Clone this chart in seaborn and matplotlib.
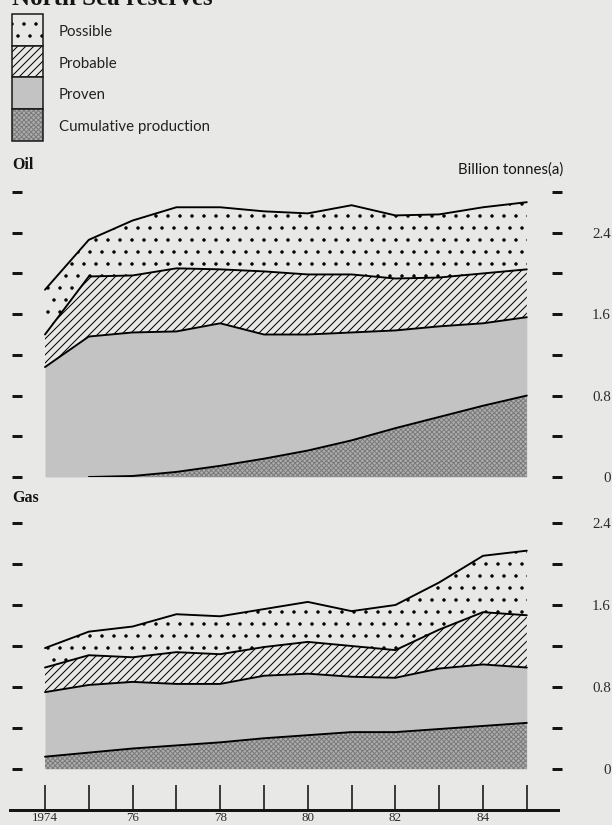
import numpy as np
import pandas as pd
import matplotlib
matplotlib.use('Agg')
import matplotlib.pyplot as plt
from matplotlib.patches import Rectangle
import seaborn as sns

# North Sea reserves, billion tonnes (tops of each stacked layer)
years = np.arange(1974, 1986)

oil_production = [np.nan, 0.0, 0.01, 0.05, 0.11, 0.18, 0.26, 0.36, 0.48, 0.59, 0.70, 0.80]
oil_proven = [1.08, 1.38, 1.42, 1.43, 1.51, 1.40, 1.40, 1.42, 1.44, 1.48, 1.51, 1.57]
oil_probable = [1.40, 1.97, 1.98, 2.05, 2.04, 2.02, 1.99, 1.99, 1.95, 1.96, 2.00, 2.04]
oil_possible = [1.84, 2.33, 2.52, 2.65, 2.65, 2.61, 2.59, 2.67, 2.57, 2.58, 2.65, 2.70]

gas_production = [0.12, 0.16, 0.20, 0.23, 0.26, 0.30, 0.33, 0.36, 0.36, 0.39, 0.42, 0.45]
gas_proven = [0.75, 0.82, 0.85, 0.83, 0.83, 0.91, 0.93, 0.90, 0.89, 0.98, 1.02, 0.99]
gas_probable = [0.99, 1.11, 1.09, 1.14, 1.12, 1.19, 1.24, 1.20, 1.16, 1.36, 1.53, 1.50]
gas_possible = [1.18, 1.34, 1.39, 1.51, 1.49, 1.56, 1.63, 1.54, 1.60, 1.82, 2.08, 2.13]

year_labels = ['1974', '', '76', '', '78', '', '80', '', '82', '', '84', '']
layer_names = ['Possible', 'Probable', 'Proven', 'Cumulative production']

# at 72 dpi one point is one pixel, and the hatch cell is 72 px
DPI = 72
W, H = 612, 825
BG = '#e8e8e6'
PROVEN_C = '#c3c3c3'
PROD_C = '#adadad'
PROD_HATCH_C = '#7a7a7a'
INK = '#151515'


def year_at(px):
    # 1974 sits at x=45 px, one year is 43.8 px
    return 1974 + (px - 45) / 43.8


def fx(px):
    return px / W


def fy(px):
    return 1 - px / H


sns.set_style('white')
plt.rcParams['hatch.linewidth'] = 1.0
plt.rcParams['font.family'] = ['Liberation Serif', 'DejaVu Sans']

fig = plt.figure(figsize=(W / DPI, H / DPI), dpi=DPI, facecolor=BG)


def draw_panel(rect, ymax, prod, proven, probable, possible):
    ax = fig.add_axes(rect)
    ax.set_facecolor('none')
    df = pd.DataFrame({'year': years, 'prod': prod, 'proven': proven,
                       'probable': probable, 'possible': possible})
    ax.fill_between(df['year'], 0, df['proven'], facecolor=PROVEN_C, linewidth=0, zorder=1)
    ax.fill_between(df['year'], 0, df['prod'], facecolor=PROD_C, hatch='xxxxx',
                    edgecolor=PROD_HATCH_C, linewidth=0, zorder=2)
    ax.fill_between(df['year'], df['proven'], df['probable'], facecolor=BG, hatch='///',
                    edgecolor='black', linewidth=0, zorder=2)
    ax.fill_between(df['year'], df['probable'], df['possible'], facecolor='none', hatch='.',
                    edgecolor='black', linewidth=0, zorder=2)
    for col in ['prod', 'proven', 'probable', 'possible']:
        d = df.dropna(subset=[col])
        sns.lineplot(data=d, x='year', y=col, ax=ax, color='black',
                     linewidth=1.9, legend=False, zorder=3)
    ax.set_xlim(year_at(12), year_at(562))
    ax.set_ylim(0, ymax)
    ticks = np.arange(0, ymax + 0.01, 0.4)
    ax.set_yticks(ticks)
    ax.set_yticklabels([f'{t:g}' if round(t / 0.8, 3) % 1 == 0 else '' for t in ticks])
    ax.set_xticks([])
    ax.set_xlabel('')
    ax.set_ylabel('')
    for s in ax.spines.values():
        s.set_visible(False)
    ax.tick_params(axis='y', which='both', direction='in', length=10, width=3,
                   color=INK, left=True, right=True, labelleft=False, labelright=True,
                   pad=49, labelsize=15, labelcolor='#2a2a2a')
    for t in ax.yaxis.get_major_ticks():
        t.label2.set_horizontalalignment('right')
    return ax


# oil: 0 at y=477 px, 2.8 at y=192 px ; gas: 0 at y=769 px, 2.4 at y=523 px
ax_oil = draw_panel([fx(12), fy(477), 550 / W, 285 / H], 2.8,
                    oil_production, oil_proven, oil_probable, oil_possible)
ax_gas = draw_panel([fx(12), fy(769), 550 / W, 246 / H], 2.4,
                    gas_production, gas_proven, gas_probable, gas_possible)

# shared year axis at the bottom
ax_x = fig.add_axes([fx(10), fy(810), 548 / W, 25 / H])
ax_x.set_facecolor('none')
ax_x.set_xlim(year_at(10), year_at(558))
ax_x.set_ylim(0, 1)
ax_x.set_yticks([])
ax_x.set_xticks(years)
ax_x.set_xticklabels(year_labels)
for name, s in ax_x.spines.items():
    s.set_visible(name == 'bottom')
ax_x.spines['bottom'].set_linewidth(3)
ax_x.spines['bottom'].set_color(INK)
ax_x.tick_params(axis='x', direction='in', length=25, width=1.6, color=INK, bottom=True,
                 pad=2, labelsize=13, labelcolor='#2a2a2a')

# titles and labels
fig.text(fx(12), fy(5), 'North Sea reserves', fontsize=25, fontweight='bold',
         va='baseline', ha='left', color=INK)
fig.text(fx(12), fy(165), 'Oil', fontsize=16, fontweight='bold', va='center', color=INK)
fig.text(fx(12), fy(498), 'Gas', fontsize=16, fontweight='bold', va='center', color=INK)
fig.text(fx(458), fy(170), 'Billion tonnes(a)', fontsize=15, va='center',
         family=['Lato', 'DejaVu Sans'], color=INK)

# legend boxes
box_tops = [14, 46, 77, 109, 141]
box_styles = [
    dict(facecolor='none', hatch='.', edgecolor='black'),
    dict(facecolor=BG, hatch='///', edgecolor='black'),
    dict(facecolor=PROVEN_C, edgecolor=PROVEN_C),
    dict(facecolor=PROD_C, hatch='xxxxx', edgecolor=PROD_HATCH_C),
]
for i, (name, style) in enumerate(zip(layer_names, box_styles)):
    top, bot = box_tops[i], box_tops[i + 1]
    fig.patches.append(Rectangle((fx(12), fy(bot)), 31 / W, (bot - top) / H,
                                 transform=fig.transFigure, linewidth=0, **style))
    fig.patches.append(Rectangle((fx(12), fy(bot)), 31 / W, (bot - top) / H,
                                 transform=fig.transFigure, facecolor='none',
                                 edgecolor=INK, linewidth=1.5))
    fig.text(fx(59), fy((top + bot) / 2 + 2), name, fontsize=15, va='center',
             family=['Lato', 'DejaVu Sans'], color='#222222')

fig.savefig('out.png', dpi=DPI, facecolor=BG)
